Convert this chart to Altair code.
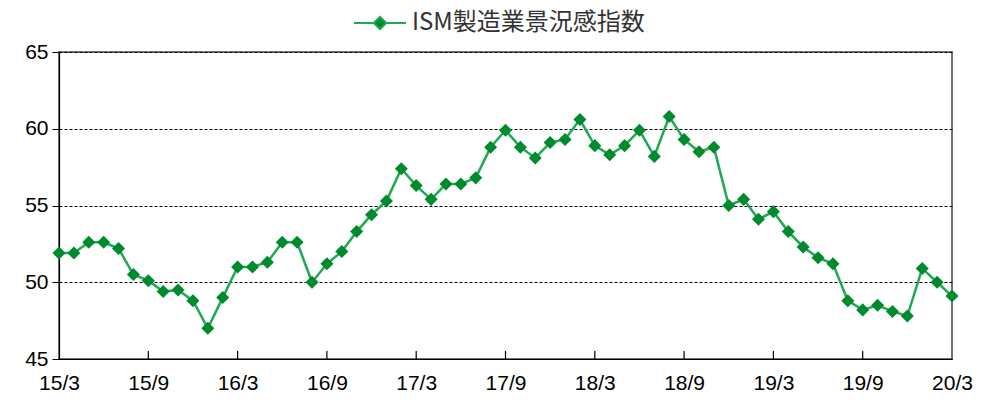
import altair as alt
import pandas as pd

series_name = "ISM製造業景況感指数"
values = [51.9, 51.9, 52.6, 52.6, 52.2, 50.5, 50.1, 49.4, 49.5, 48.8,
          47.0, 49.0, 51.0, 51.0, 51.3, 52.6, 52.6, 50.0, 51.2, 52.0,
          53.3, 54.4, 55.3, 57.4, 56.3, 55.4, 56.4, 56.4, 56.8, 58.8,
          59.9, 58.8, 58.1, 59.1, 59.3, 60.6, 58.9, 58.3, 58.9, 59.9,
          58.2, 60.8, 59.3, 58.5, 58.8, 55.0, 55.4, 54.1, 54.6, 53.3,
          52.3, 51.6, 51.2, 48.8, 48.2, 48.5, 48.1, 47.8, 50.9, 50.0,
          49.1]
tick_labels = ["15/3", "15/9", "16/3", "16/9", "17/3", "17/9",
               "18/3", "18/9", "19/3", "19/9", "20/3"]
tick_positions = [6 * i for i in range(len(tick_labels))]
y_ticks = [45, 50, 55, 60, 65]

df = pd.DataFrame({"m": list(range(len(values))), "v": values, "s": series_name})
ticks_df = pd.DataFrame({"m": tick_positions[1:-1]})

label_arr = "[" + ",".join("'" + t + "'" for t in tick_labels) + "]"

LINE = "#1DAA52"
MARK = "#008A2E"
FONT = "Liberation Sans"

x_scale = alt.Scale(domain=[0, len(values) - 1], nice=False, zero=False)
y_scale = alt.Scale(domain=[45, 65], nice=False, zero=False)

x_axis = alt.Axis(values=tick_positions, labelExpr=label_arr + "[round(datum.value/6)]",
                  title=None, grid=False, ticks=False, labelPadding=13,
                  labelFontSize=21, labelFont=FONT, labelColor="#000",
                  domainColor="#000", domainWidth=1.2, labelFlush=False)
y_axis = alt.Axis(values=y_ticks, title=None, grid=True, gridDash=[3, 2],
                  gridColor="#000", gridWidth=1, tickSize=7, tickColor="#000",
                  labelFontSize=21, labelFont=FONT, labelColor="#000",
                  labelPadding=4, domainColor="#000", domainWidth=1.2)

# legend glyph: a line with a diamond in the middle (unit size 20px)
legend_path = "M-2.6,0L-0.6,0M0.6,0L2.6,0M-0.62,0L0,-0.62L0.62,0L0,0.62Z"

line = alt.Chart(df).mark_line(strokeWidth=2.5).encode(
    x=alt.X("m:Q", scale=x_scale, axis=x_axis),
    y=alt.Y("v:Q", scale=y_scale, axis=y_axis),
    color=alt.Color("s:N", scale=alt.Scale(range=[LINE]),
                    legend=alt.Legend(title=None, orient="none", legendX=309, legendY=-41,
                                      symbolType=legend_path, symbolSize=400,
                                      symbolStrokeWidth=2, symbolStrokeColor="#2A9A2A",
                                      symbolFillColor=MARK, labelLimit=600,
                                      labelFontSize=24, labelFont="Noto Sans CJK JP",
                                      labelColor="#333", labelOffset=20)),
)

points = alt.Chart(df).mark_point(shape="diamond", filled=True, size=170,
                                  color=MARK, opacity=1).encode(
    x=alt.X("m:Q", scale=x_scale),
    y=alt.Y("v:Q", scale=y_scale),
)

xticks = alt.Chart(ticks_df).mark_rule(color="#000", strokeWidth=1.2).encode(
    x=alt.X("m:Q", scale=x_scale),
    y=alt.value(307),
    y2=alt.value(299),
)

chart = alt.layer(xticks, line, points).properties(
    width=893, height=307, autosize="none",
    padding={"left": 51, "top": 44, "right": 21, "bottom": 42},
).configure_view(stroke="#444", strokeWidth=1.5)

chart.save("out.html", embed_options={"renderer": "svg", "actions": False})
